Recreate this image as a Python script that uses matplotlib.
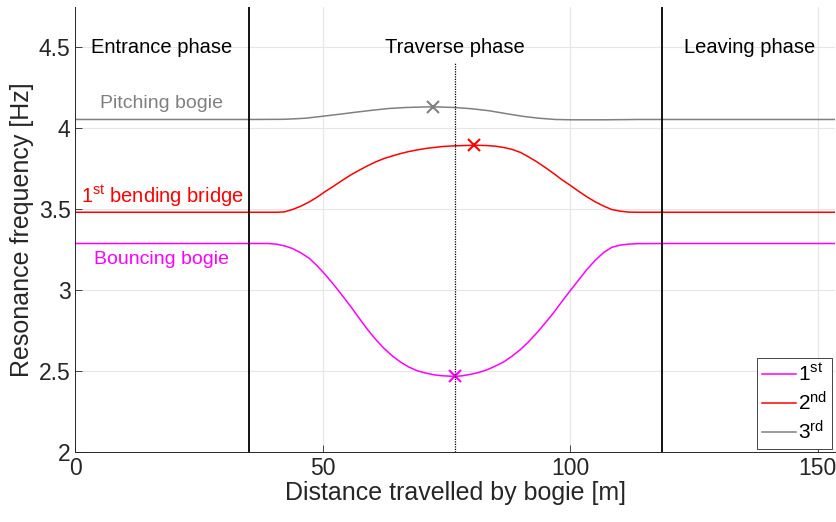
import matplotlib.pyplot as plt
import numpy as np

plt.rcParams['font.family'] = ['Liberation Sans', 'DejaVu Sans']
plt.rcParams['mathtext.fontset'] = 'custom'
plt.rcParams['mathtext.rm'] = 'Liberation Sans'
plt.rcParams['mathtext.it'] = 'Liberation Sans'

# distance travelled by bogie [m] and resonance frequencies [Hz]
dist1 = [0, 35, 39.0, 40.6, 42.2, 43.9, 45.6, 47.3, 48.95, 50.6, 52.3, 54.0, 55.7, 57.4, 59.0,
         60.7, 62.4, 64.1, 65.8, 67.4, 69.1, 70.8, 72.5, 74.2, 76.8,
         78.2, 79.9, 81.6, 83.2, 84.9, 86.6, 88.3, 90.0, 91.6, 93.3, 95.0, 96.7, 98.3,
         100.0, 101.7, 103.4, 105.1, 106.8, 108.4, 110.1, 111.8, 113.5, 118.6, 154]
freq1 = [3.288, 3.288, 3.288, 3.284, 3.274, 3.257, 3.230, 3.196, 3.148, 3.093, 3.031, 2.965, 2.897, 2.825, 2.759,
         2.696, 2.640, 2.593, 2.554, 2.525, 2.502, 2.488, 2.477, 2.471, 2.467,
         2.471, 2.480, 2.492, 2.508, 2.531, 2.557, 2.593, 2.634, 2.681, 2.737, 2.798, 2.862, 2.928,
         2.996, 3.062, 3.128, 3.185, 3.233, 3.264, 3.278, 3.284, 3.287, 3.288, 3.288]

dist2 = [0, 35, 40.6, 42.2, 43.9, 45.6, 47.3, 48.95, 50.6, 52.3, 54.0, 55.7, 57.4, 59.0,
         60.7, 62.4, 64.1, 65.8, 67.4, 69.1, 70.8, 72.5, 74.2, 76.5, 80.5,
         83.2, 84.9, 86.6, 88.3, 90.0, 91.6, 93.3, 95.0, 96.7, 98.3, 100.0, 101.7, 103.4,
         105.1, 106.8, 108.4, 110.1, 111.8, 113.5, 118.6, 154]
freq2 = [3.481, 3.481, 3.481, 3.483, 3.498, 3.519, 3.545, 3.576, 3.611, 3.644, 3.679, 3.712, 3.741, 3.767,
         3.792, 3.813, 3.829, 3.844, 3.856, 3.866, 3.875, 3.881, 3.887, 3.891, 3.895,
         3.893, 3.889, 3.881, 3.869, 3.850, 3.823, 3.792, 3.757, 3.720, 3.683, 3.648, 3.611, 3.576,
         3.545, 3.519, 3.498, 3.488, 3.482, 3.481, 3.481, 3.481]

dist3 = [0, 35, 42.0, 44.3, 46.6, 50.0, 53.3, 56.7, 60.0, 63.4, 66.8, 70.1, 72.2, 73.5, 76.7,
         80.2, 83.6, 86.9, 90.3, 93.6, 97.0, 100.4, 107.1, 113.8, 118.6, 154]
freq3 = [4.054, 4.054, 4.055, 4.058, 4.062, 4.074, 4.086, 4.099, 4.111, 4.122, 4.128, 4.131, 4.132, 4.131,
         4.128, 4.120, 4.108, 4.091, 4.074, 4.062, 4.054, 4.052, 4.052, 4.054, 4.054, 4.054]

# extreme points marked with a cross
peak_x = [76.8, 80.5, 72.2]
peak_y = [2.467, 3.895, 4.132]

phase_bounds = [35.0, 118.6]
mid_span = 76.8

c1, c2, c3 = '#ff00ff', '#ff0000', '#808080'
dark = '#262626'

fig = plt.figure(figsize=(8.37, 5.22), dpi=100)
ax = fig.add_axes([0.090, 0.134, 0.908, 0.853])

l1, = ax.plot(dist1, freq1, color=c1, lw=1.1, label='1$^{st}$')
l2, = ax.plot(dist2, freq2, color=c2, lw=1.1, label='2$^{nd}$')
l3, = ax.plot(dist3, freq3, color=c3, lw=1.1, label='3$^{rd}$')
for px, py, c in zip(peak_x, peak_y, [c1, c2, c3]):
    ax.plot(px, py, 'x', color=c, ms=8, mew=1.5)

for xb in phase_bounds:
    ax.axvline(xb, color='black', lw=1.3)
ax.plot([mid_span, mid_span], [2, 4.41], color='black', lw=0.9, ls=(0, (1, 1)))

ax.text(17.5, 4.5, 'Entrance phase', fontsize=14.5, ha='center', va='center')
ax.text(mid_span, 4.5, 'Traverse phase', fontsize=14.5, ha='center', va='center')
ax.text(136.2, 4.5, 'Leaving phase', fontsize=14.5, ha='center', va='center')

ax.text(17.5, 4.15, 'Pitching bogie', fontsize=14, color=c3, ha='center', va='center')
ax.text(17.5, 3.58, '1$^{st}$ bending bridge', fontsize=14.5, color=c2, ha='center', va='center')
ax.text(17.5, 3.19, 'Bouncing bogie', fontsize=14, color=c1, ha='center', va='center')

ax.set_xlim(0, 153.6)
ax.set_ylim(2, 4.75)
ax.set_xticks([0, 50, 100, 150])
ax.set_yticks([2, 2.5, 3, 3.5, 4, 4.5])
ax.set_yticklabels(['2', '2.5', '3', '3.5', '4', '4.5'])
ax.tick_params(direction='in', labelsize=16.5, colors=dark, length=5, width=0.6)
ax.grid(True, color='#e6e6e6', lw=0.8)
ax.set_axisbelow(True)
for s in ['top', 'right']:
    ax.spines[s].set_visible(False)
for s in ['left', 'bottom']:
    ax.spines[s].set_color(dark)
    ax.spines[s].set_linewidth(0.7)

ax.set_xlabel('Distance travelled by bogie [m]', fontsize=18, color=dark, labelpad=1)
ax.set_ylabel('Resonance frequency [Hz]', fontsize=18, color=dark, labelpad=3)

leg = ax.legend(handles=[l1, l2, l3], loc='lower right', fontsize=15, handlelength=1.6,
                handletextpad=0.1, borderpad=0.25, labelspacing=0.3, fancybox=False,
                framealpha=1, borderaxespad=0.15)
leg.get_frame().set_edgecolor(dark)
leg.get_frame().set_linewidth(0.6)

fig.savefig('out.png', dpi=100)
